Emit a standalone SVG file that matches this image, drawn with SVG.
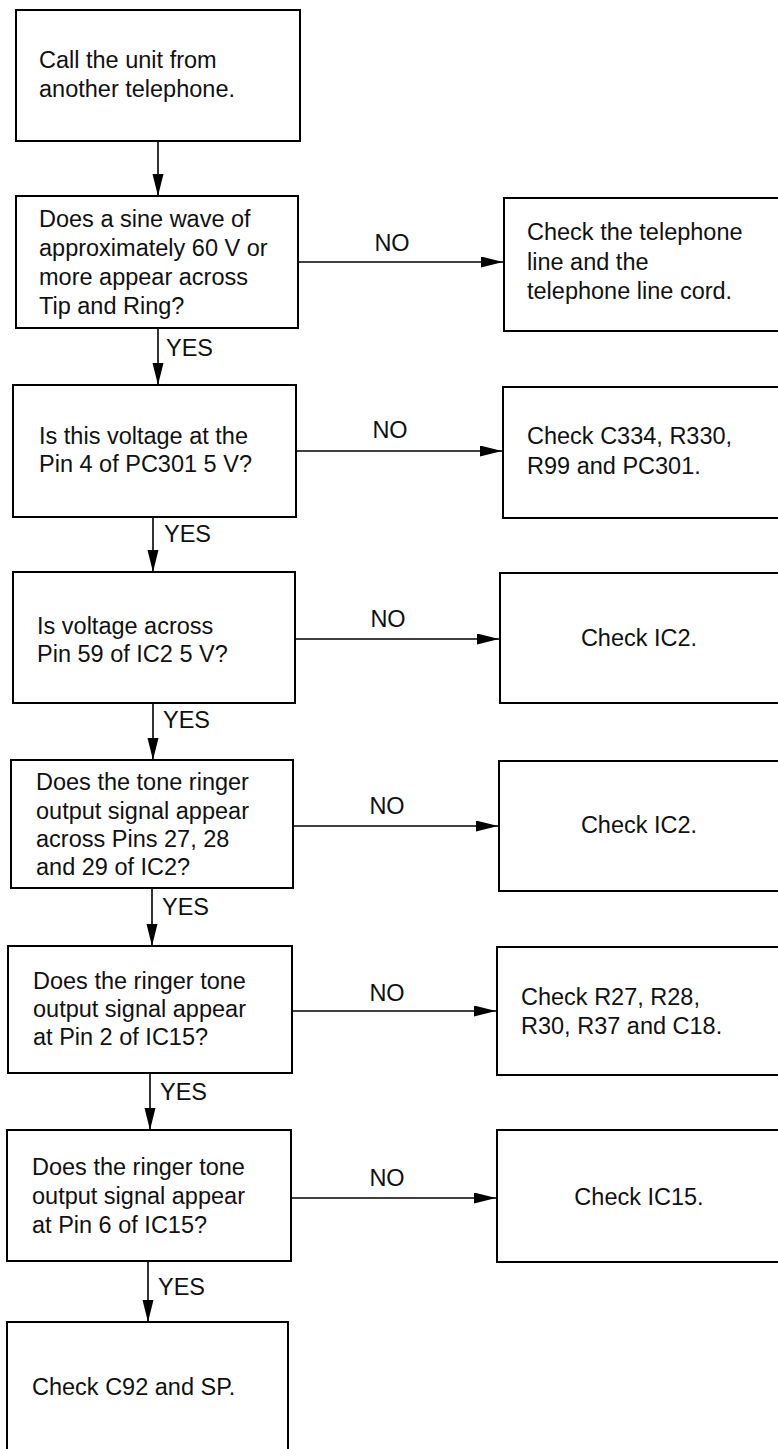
<svg xmlns="http://www.w3.org/2000/svg" width="778" height="1449" viewBox="0 0 778 1449">
<style>
.box{fill:#fff;stroke:#000;stroke-width:2}
.t{font-family:"Liberation Sans",Arial,Helvetica,sans-serif;font-size:23.5px;fill:#111}
.c{text-anchor:middle}
.conn line{stroke:#000;stroke-width:1.6}
</style>
<defs>
<marker id="ah" markerUnits="userSpaceOnUse" markerWidth="24" markerHeight="12" refX="22" refY="5.5" orient="auto">
<path d="M0,0 L22,5.5 L0,11 Z" fill="#000"/>
</marker>
</defs>
<rect width="778" height="1449" fill="#fff"/>

<g id="n1"><rect class="box" x="16" y="10" width="284" height="131"/>
<text class="t" x="39" y="68">Call the unit from</text>
<text class="t" x="39" y="97">another telephone.</text></g>

<g id="n2"><rect class="box" x="16" y="196" width="282" height="132"/>
<text class="t" x="39" y="227">Does a sine wave of</text>
<text class="t" x="39" y="256">approximately 60 V or</text>
<text class="t" x="39" y="285">more appear across</text>
<text class="t" x="39" y="314">Tip and Ring?</text></g>

<g id="r1"><rect class="box" x="504" y="198" width="300" height="133"/>
<text class="t" x="527" y="240">Check the telephone</text>
<text class="t" x="527" y="270">line and the</text>
<text class="t" x="527" y="299">telephone line cord.</text></g>

<g id="n3"><rect class="box" x="13" y="385" width="283" height="132"/>
<text class="t" x="39" y="444">Is this voltage at the</text>
<text class="t" x="39" y="472">Pin 4 of PC301 5 V?</text></g>

<g id="r2"><rect class="box" x="503" y="387" width="300" height="131"/>
<text class="t" x="527" y="444">Check C334, R330,</text>
<text class="t" x="527" y="474">R99 and PC301.</text></g>

<g id="n4"><rect class="box" x="13" y="572" width="282" height="131"/>
<text class="t" x="37" y="634">Is voltage across</text>
<text class="t" x="37" y="662">Pin 59 of IC2 5 V?</text></g>

<g id="r3"><rect class="box" x="500" y="573" width="300" height="130"/>
<text class="t c" x="639" y="646">Check IC2.</text></g>

<g id="n5"><rect class="box" x="11" y="760" width="282" height="128"/>
<text class="t" x="36" y="790">Does the tone ringer</text>
<text class="t" x="36" y="819">output signal appear</text>
<text class="t" x="36" y="847">across Pins 27, 28</text>
<text class="t" x="36" y="875">and 29 of IC2?</text></g>

<g id="r4"><rect class="box" x="499" y="761" width="300" height="130"/>
<text class="t c" x="639" y="833">Check IC2.</text></g>

<g id="n6"><rect class="box" x="8" y="946" width="284" height="127"/>
<text class="t" x="33" y="989">Does the ringer tone</text>
<text class="t" x="33" y="1017">output signal appear</text>
<text class="t" x="33" y="1045">at Pin 2 of IC15?</text></g>

<g id="r5"><rect class="box" x="497" y="947" width="300" height="128"/>
<text class="t" x="521" y="1005">Check R27, R28,</text>
<text class="t" x="521" y="1034">R30, R37 and C18.</text></g>

<g id="n7"><rect class="box" x="7" y="1130" width="284" height="131"/>
<text class="t" x="32" y="1175">Does the ringer tone</text>
<text class="t" x="32" y="1204">output signal appear</text>
<text class="t" x="32" y="1233">at Pin 6 of IC15?</text></g>

<g id="r6"><rect class="box" x="497" y="1130" width="300" height="132"/>
<text class="t c" x="639" y="1205">Check IC15.</text></g>

<g id="n8"><rect class="box" x="7" y="1322" width="281" height="140"/>
<text class="t" x="32" y="1395">Check C92 and SP.</text></g>

<g id="connectors" class="conn">
<line x1="158" y1="141" x2="158" y2="196" marker-end="url(#ah)"/>
<line x1="298" y1="262" x2="503" y2="262" marker-end="url(#ah)"/>
<text class="t c" x="392" y="251">NO</text>
<line x1="158" y1="328" x2="158" y2="385" marker-end="url(#ah)"/>
<text class="t" x="166" y="356">YES</text>
<line x1="296" y1="451" x2="502" y2="451" marker-end="url(#ah)"/>
<text class="t c" x="390" y="438">NO</text>
<line x1="153" y1="517" x2="153" y2="572" marker-end="url(#ah)"/>
<text class="t" x="164" y="542">YES</text>
<line x1="295" y1="639" x2="499" y2="639" marker-end="url(#ah)"/>
<text class="t c" x="388" y="627">NO</text>
<line x1="153" y1="703" x2="153" y2="760" marker-end="url(#ah)"/>
<text class="t" x="163" y="728">YES</text>
<line x1="293" y1="826" x2="498" y2="826" marker-end="url(#ah)"/>
<text class="t c" x="387" y="814">NO</text>
<line x1="152" y1="888" x2="152" y2="946" marker-end="url(#ah)"/>
<text class="t" x="162" y="915">YES</text>
<line x1="292" y1="1011" x2="496" y2="1011" marker-end="url(#ah)"/>
<text class="t c" x="387" y="1001">NO</text>
<line x1="150" y1="1073" x2="150" y2="1130" marker-end="url(#ah)"/>
<text class="t" x="160" y="1100">YES</text>
<line x1="291" y1="1198" x2="496" y2="1198" marker-end="url(#ah)"/>
<text class="t c" x="387" y="1186">NO</text>
<line x1="148" y1="1261" x2="148" y2="1322" marker-end="url(#ah)"/>
<text class="t" x="158" y="1295">YES</text>
</g>
</svg>
